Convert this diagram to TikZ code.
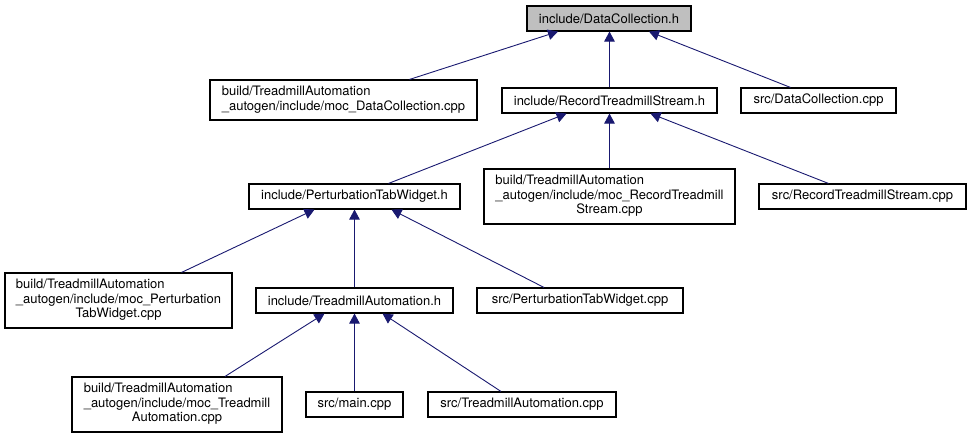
\documentclass[tikz,border=0pt]{standalone}
\usepackage{fontspec}
\setmainfont{TeX Gyre Heros}
\usetikzlibrary{arrows.meta}
\definecolor{depblue}{RGB}{25,25,112}
\definecolor{rootgray}{RGB}{191,191,191}
% doxygen style labels: first lines left, last line centred
\newcommand{\twolines}[2]{\begin{tabular}{@{}l@{}}#1\\#2\end{tabular}}
\newcommand{\threelines}[3]{\begin{tabular}{@{}l@{}}#1\\#2\\\multicolumn{1}{@{}c@{}}{#3}\end{tabular}}
\begin{document}
\begin{tikzpicture}[x=1pt,y=-1pt,
  every node/.style={font=\fontsize{13}{14.5}\selectfont},
  file/.style={draw,line width=1.1pt,inner sep=0pt,minimum height=25pt},
  dep/.style={draw=depblue,line width=0.9pt,-{Triangle[length=10pt,width=10.5pt]}}]
\useasboundingbox (0,0) rectangle (971,439);
% row 1
\node[file,fill=rootgray,minimum width=164pt] (dch) at (609,18.5) {include/DataCollection.h};
% row 2
\node[file,minimum width=267pt,minimum height=40pt] (mocdc) at (343.5,100) {\twolines{build/TreadmillAutomation}{\_autogen/include/moc\_DataCollection.cpp}};
\node[file,minimum width=215pt] (rtsh) at (609.5,100.5) {include/RecordTreadmillStream.h};
\node[file,minimum width=155pt] (dccpp) at (818.5,100.5) {src/DataCollection.cpp};
% row 3
\node[file,minimum width=211pt] (ptwh) at (354.5,196.5) {include/PerturbationTabWidget.h};
\node[file,minimum width=251pt,minimum height=55pt] (mocrts) at (609.5,196.5) {\threelines{build/TreadmillAutomation}{\_autogen/include/moc\_RecordTreadmill}{Stream.cpp}};
\node[file,minimum width=207pt] (rtscpp) at (862.5,196.5) {src/RecordTreadmillStream.cpp};
% row 4
\node[file,minimum width=227pt,minimum height=55pt] (mocptw) at (118.5,300.5) {\threelines{build/TreadmillAutomation}{\_autogen/include/moc\_Perturbation}{TabWidget.cpp}};
\node[file,minimum width=197pt] (tah) at (354.5,300.5) {include/TreadmillAutomation.h};
\node[file,minimum width=206pt] (ptwcpp) at (580,300.5) {src/PerturbationTabWidget.cpp};
% row 5
\node[file,minimum width=210pt,minimum height=55pt] (mocta) at (177,404.5) {\threelines{build/TreadmillAutomation}{\_autogen/include/moc\_Treadmill}{Automation.cpp}};
\node[file,minimum width=97pt] (maincpp) at (354.5,404.5) {src/main.cpp};
\node[file,minimum width=188pt] (tacpp) at (522,404.5) {src/TreadmillAutomation.cpp};
% includes
\draw[dep] ([xshift=66pt]mocdc.north) -- ([xshift=-51pt]dch.south);
\draw[dep] (rtsh.north) -- (rtsh.north |- dch.south);
\draw[dep] ([xshift=-28pt]dccpp.north) -- ([xshift=40pt]dch.south);
\draw[dep] ([xshift=34pt]ptwh.north) -- ([xshift=-43pt]rtsh.south);
\draw[dep] (mocrts.north) -- (mocrts.north |- rtsh.south);
\draw[dep] ([xshift=-34pt]rtscpp.north) -- ([xshift=41pt]rtsh.south);
\draw[dep] ([xshift=63pt]mocptw.north) -- ([xshift=-40pt]ptwh.south);
\draw[dep] (tah.north) -- (ptwh.south);
\draw[dep] ([xshift=-36pt]ptwcpp.north) -- ([xshift=37pt]ptwh.south);
\draw[dep] ([xshift=48pt]mocta.north) -- ([xshift=-30pt]tah.south);
\draw[dep] (maincpp.north) -- (tah.south);
\draw[dep] ([xshift=-21pt]tacpp.north) -- ([xshift=28pt]tah.south);
\end{tikzpicture}
\end{document}
